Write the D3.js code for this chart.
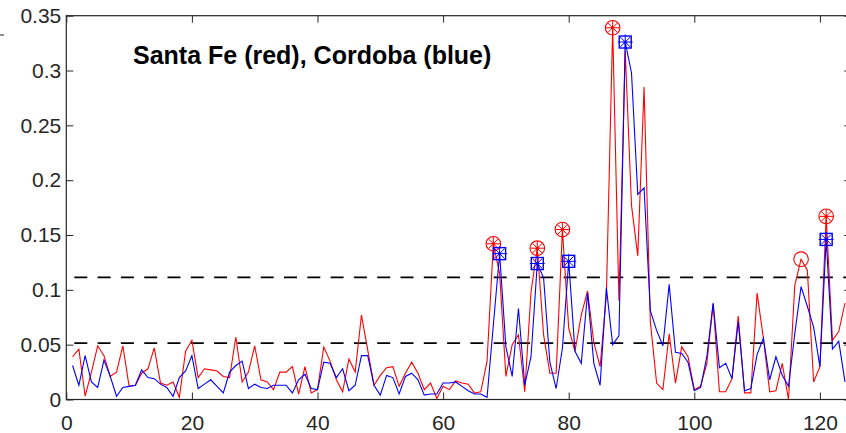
<!DOCTYPE html>
<html><head><meta charset="utf-8">
<script src="https://cdn.jsdelivr.net/npm/d3@7"></script>
<style>body{margin:0;background:#fff}svg{display:block}</style>
</head><body>
<svg id="c" width="846" height="433"></svg>
<script>
const santaFe = [0.039,0.046,0.003,0.025,0.049,0.040,0.021,0.025,0.049,0.012,
0.013,0.024,0.028,0.047,0.015,0.013,0.016,0.002,0.044,0.054,
0.020,0.028,0.027,0.026,0.021,0.020,0.057,0.016,0.025,0.049,
0.018,0.016,0.009,0.025,0.025,0.030,0.005,0.030,0.006,0.009,
0.048,0.035,0.018,0.007,0.037,0.025,0.077,0.045,0.013,0.022,
0.029,0.030,0.012,0.024,0.034,0.024,0.009,0.015,0.001,0.012,
0.009,0.017,0.015,0.014,0.006,0.007,0.035,0.142,0.115,0.021,
0.050,0.059,0.007,0.098,0.138,0.059,0.024,0.024,0.155,0.065,
0.044,0.077,0.099,0.052,0.030,0.095,0.339,0.090,0.318,0.177,
0.131,0.285,0.071,0.015,0.009,0.060,0.015,0.048,0.039,0.009,
0.012,0.033,0.087,0.007,0.007,0.019,0.076,0.006,0.006,0.097,
0.056,0.007,0.008,0.033,0.000,0.104,0.128,0.118,0.016,0.030,
0.167,0.054,0.062,0.088];
const cordoba = [0.031,0.013,0.040,0.016,0.011,0.036,0.021,0.003,0.011,0.012,
0.013,0.027,0.020,0.019,0.014,0.011,0.003,0.020,0.026,0.040,
0.010,0.014,0.018,0.012,0.006,0.025,0.031,0.035,0.010,0.014,
0.011,0.010,0.013,0.013,0.013,0.006,0.018,0.023,0.010,0.009,
0.034,0.033,0.020,0.028,0.008,0.013,0.040,0.040,0.013,0.004,
0.022,0.020,0.005,0.021,0.024,0.018,0.004,0.005,0.005,0.015,
0.015,0.016,0.012,0.008,0.005,0.005,0.002,0.068,0.133,0.048,
0.021,0.083,0.013,0.039,0.124,0.111,0.034,0.010,0.047,0.126,
0.044,0.033,0.097,0.033,0.013,0.102,0.050,0.058,0.326,0.298,
0.187,0.193,0.081,0.063,0.049,0.105,0.043,0.042,0.034,0.008,
0.011,0.039,0.088,0.029,0.033,0.019,0.071,0.008,0.010,0.041,
0.056,0.018,0.039,0.022,0.012,0.060,0.103,0.085,0.066,0.030,
0.146,0.046,0.053,0.016];
const redStarIdx = [68,75,79,87,121];
const redCircleIdx = [117];
const blueStarIdx = [69,75,80,89,121];
const thresholds = [0.0514, 0.1113];
const xTicks = [0,20,40,60,80,100,120];
const yTicks = [0,0.05,0.1,0.15,0.2,0.25,0.3,0.35];
const xDomain = [0,125];
const yDomain = [0,0.35];
const titleText = "Santa Fe (red), Cordoba (blue)";

const svg = d3.select("#c");
const L=66.3, R=851.3, T=15.7, B=399.5;
const x = d3.scaleLinear().domain(xDomain).range([L,R]);
const y = d3.scaleLinear().domain(yDomain).range([B,T]);
const axisCol = "#262626";
const font = "'Liberation Sans', Arial, sans-serif";

function styleAxis(g){
  g.select(".domain").remove();
  g.selectAll(".tick line").attr("stroke",axisCol).attr("stroke-width",1);
  g.selectAll("text").attr("fill",axisCol).style("font-family",font).style("font-size","21px");
}
svg.append("g").attr("transform",`translate(0,${B})`)
  .call(d3.axisBottom(x).tickValues(xTicks).tickSizeInner(-7).tickSizeOuter(0).tickPadding(15.5).tickFormat(d3.format("d")))
  .call(styleAxis);
svg.append("g").attr("transform",`translate(0,${T})`)
  .call(d3.axisTop(x).tickValues(xTicks).tickSizeInner(-7).tickSizeOuter(0).tickFormat(""))
  .call(styleAxis);
svg.append("g").attr("transform",`translate(${L},0)`)
  .call(d3.axisLeft(y).tickValues(yTicks).tickSizeInner(-7).tickSizeOuter(0).tickPadding(5).tickFormat(d=>d===0?"0":String(+d.toFixed(2))))
  .call(styleAxis);
svg.append("g").attr("transform",`translate(${R},0)`)
  .call(d3.axisRight(y).tickValues(yTicks).tickSizeInner(-7).tickSizeOuter(0).tickFormat(""))
  .call(styleAxis);
svg.append("rect").attr("x",L).attr("y",T).attr("width",R-L).attr("height",B-T)
  .attr("fill","none").attr("stroke",axisCol).attr("stroke-width",1.2);

svg.append("line").attr("x1",0).attr("x2",4).attr("y1",35).attr("y2",35).attr("stroke",axisCol).attr("stroke-width",1);

svg.append("clipPath").attr("id","pc").append("rect")
  .attr("x",L).attr("y",T-12).attr("width",R-L).attr("height",B-T+12);
const plot = svg.append("g");

plot.selectAll("line.th").data(thresholds).join("line").attr("class","th")
  .attr("x1",L+1).attr("x2",R).attr("y1",d=>y(d)).attr("y2",d=>y(d))
  .attr("stroke","#000").attr("stroke-width",1.7)
  .attr("stroke-dasharray","13 10.3").attr("stroke-dashoffset",16.3);

const line = d3.line().x((d,i)=>x(i+1)).y(d=>y(d));
const lines = plot.append("g").attr("clip-path","url(#pc)");
lines.append("path").datum(santaFe).attr("d",line).attr("fill","none").attr("stroke","#ff0000").attr("stroke-width",1.1);
lines.append("path").datum(cordoba).attr("d",line).attr("fill","none").attr("stroke","#0000ff").attr("stroke-width",1.1);

function asterisk(g, r1, r2, col){
  g.append("line").attr("x1",-r1).attr("x2",r1).attr("y1",0).attr("y2",0).attr("stroke",col);
  g.append("line").attr("x1",0).attr("x2",0).attr("y1",-r1).attr("y2",r1).attr("stroke",col);
  const q = r2/Math.SQRT2;
  g.append("line").attr("x1",-q).attr("x2",q).attr("y1",-q).attr("y2",q).attr("stroke",col);
  g.append("line").attr("x1",-q).attr("x2",q).attr("y1",q).attr("y2",-q).attr("stroke",col);
  g.append("circle").attr("r",1.6).attr("fill",col);
}
redStarIdx.forEach(i=>{
  const g = plot.append("g").attr("transform",`translate(${x(i)},${y(santaFe[i-1])})`)
    .attr("stroke-width",1);
  g.append("circle").attr("r",7.3).attr("fill","none").attr("stroke","#ff0000").attr("stroke-width",1.1);
  asterisk(g,6.8,6.8,"#ff0000");
});
redCircleIdx.forEach(i=>{
  plot.append("circle").attr("cx",x(i)).attr("cy",y(santaFe[i-1])).attr("r",7.3)
    .attr("fill","none").attr("stroke","#ff0000").attr("stroke-width",1.1);
});
blueStarIdx.forEach(i=>{
  const g = plot.append("g").attr("transform",`translate(${x(i)},${y(cordoba[i-1])})`)
    .attr("stroke-width",1);
  g.append("rect").attr("x",-6).attr("y",-6).attr("width",12).attr("height",12)
    .attr("fill","none").attr("stroke","#0000ff").attr("stroke-width",1.4);
  asterisk(g,7.5,7,"#0000ff");
});

svg.append("text").attr("x",133).attr("y",63.5).text(titleText)
  .style("font-family",font).style("font-weight","bold").style("font-size","25px").attr("fill","#000");
</script>
</body></html>
